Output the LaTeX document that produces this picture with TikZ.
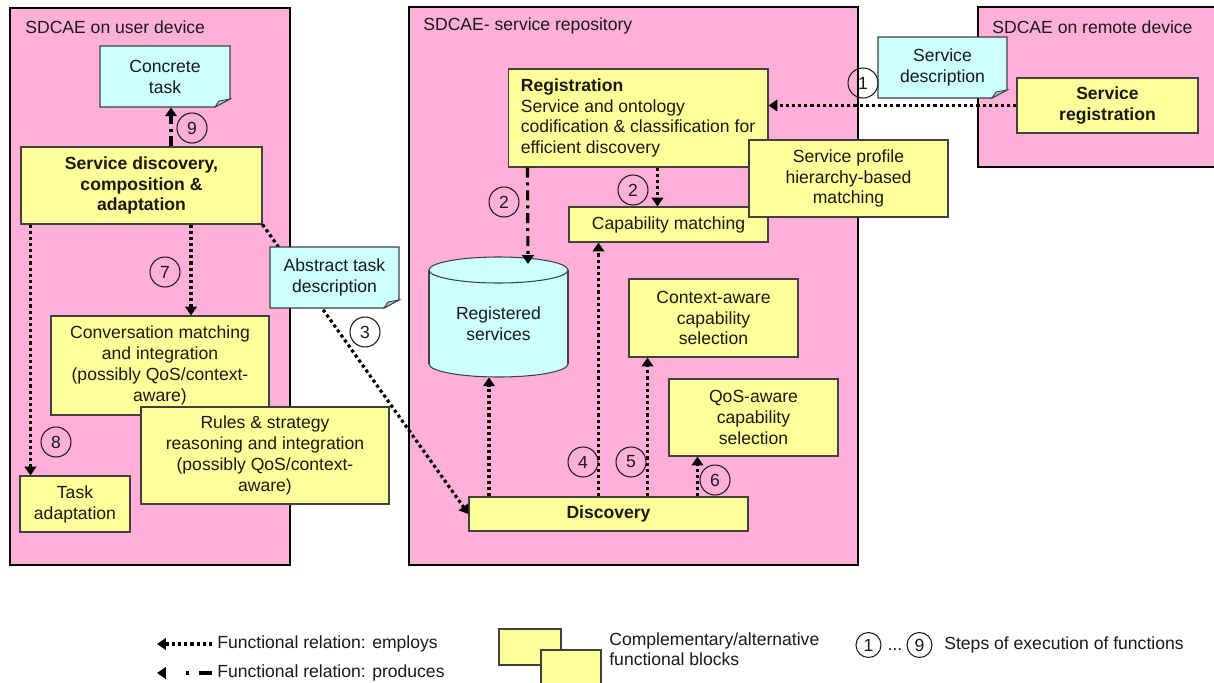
\documentclass[tikz,border=0pt]{standalone}
\usepackage{fontspec}
\setmainfont{Liberation Sans}
\usetikzlibrary{arrows.meta,calc}
\definecolor{pnk}{RGB}{255,176,216}
\definecolor{yel}{RGB}{255,255,153}
\definecolor{cya}{RGB}{204,255,255}
\definecolor{bord}{RGB}{64,64,64}
\definecolor{txt}{RGB}{25,25,25}
\newcommand\ff{\fontsize{10}{11.9}\selectfont}
\newcommand\bx[7]{\node[#6, minimum width={(#4-#2)*0.02cm}, minimum height={(#5-#3)*0.02cm}] (#1) at ({(#2+#4)/2},{(#3+#5)/2}) {#7};}
\newcommand\dc[6]{%
 \path[docshape] (#2,#3) -- (#4,#3) -- (#4,#5-8) -- (#4-15,#5) -- (#2,#5) -- cycle;
 \path[foldshape] (#4,#5-8) -- (#4-15,#5) -- (#4-11,#5-6) -- cycle;
 \node[doctext, minimum width={(#4-#2)*0.02cm}, minimum height={(#5-#3)*0.02cm}] (#1) at ({(#2+#4)/2},{(#3+#5)/2}) {#6};}
\tikzset{
 panel/.style={fill=pnk, draw=black, line width=0.6pt},
 ybox/.style={rectangle, fill=yel, draw=bord, line width=0.6pt, align=center, inner sep=0pt, text=txt, font=\ff},
 bbox/.style={ybox, font=\ff\bfseries},
 docshape/.style={fill=cya, draw=bord, line width=0.6pt},
 foldshape/.style={fill=cya!55!gray, draw=bord, line width=0.5pt},
 doctext/.style={rectangle, inner sep=0pt, align=center, text=txt, font=\ff},
 cylfill/.style={fill=cya, draw=bord, line width=0.6pt},
 employs/.style={line width=1.8pt, dash pattern=on 1.8pt off 1.7pt, -{Triangle[length=5pt,width=6.5pt]}},
 produces/.style={line width=1.8pt, dash pattern=on 5.7pt off 2.8pt on 1.7pt off 2.8pt, -{Triangle[length=5pt,width=6.5pt]}},
 lproduces/.style={line width=1.8pt, dash pattern=on 7.4pt off 5.7pt on 1.7pt off 20pt, -{Triangle[length=5pt,width=6.5pt]}},
 stepc/.style={circle, draw=txt, line width=0.6pt, minimum size=0.6cm, inner sep=0pt, text=txt, font=\ff},
 lstepc/.style={stepc, minimum size=0.5cm},
 title/.style={anchor=west, inner sep=0pt, text=txt, font=\ff},
 ltext/.style={anchor=west, inner sep=0pt, text=txt, font=\ff, align=left},
}
\begin{document}
\begin{tikzpicture}[x=0.02cm, y=-0.02cm]
\useasboundingbox (0,0) rectangle (1214,683);
\fill[white] (0,0) rectangle (1214,683);
% panels
\path[panel] (10,8) rectangle (290,565);
\path[panel] (409,7) rectangle (858,565);
\path[panel] (978,7) rectangle (1222,167);
\node[title] (t1) at (25,27) {SDCAE on user device};
\node[title] (t2) at (423,26) {SDCAE- service repository};
\node[title] (t3) at (992,27) {SDCAE on remote device};
% left panel
\bx{sd}{21}{147}{262}{224}{bbox}{Service discovery,\\composition \&\\adaptation}
\bx{disc}{469}{497}{748}{531}{bbox}{Discovery}
\draw[employs] (sd.south east) -- (disc.west);
\dc{ct}{100}{46}{230}{107}{Concrete\\task}
\dc{atd}{270}{247}{399}{308}{Abstract task\\description}
\bx{conv}{51}{316}{269}{415}{ybox}{Conversation matching\\and integration\\(possibly QoS/context-\\aware)}
\bx{rules}{141}{407}{389}{504}{ybox}{Rules \& strategy\\reasoning and integration\\(possibly QoS/context-\\aware)}
\bx{ta}{20}{476}{130}{532}{ybox}{Task\\adaptation}
\draw[produces] ([xshift=0.12cm]ct.south |- sd.north) -- ([xshift=0.12cm]ct.south);
\draw[employs] ([xshift=0.62cm]conv.north |- sd.south) -- ([xshift=0.62cm]conv.north);
\draw[employs] ([xshift=0.22cm]ta.north west |- sd.south) -- ([xshift=0.22cm]ta.north west);
% middle panel
\node[ybox, minimum width=5.2cm, minimum height=1.96cm, align=left] (reg) at (638,118) {{\bfseries Registration}\\Service and ontology\\codification \& classification for\\efficient discovery};
\bx{cap}{569}{207}{768}{242}{ybox}{Capability matching}
\bx{sp}{749}{140}{948}{217}{ybox}{Service profile\\hierarchy-based\\matching}
\path[cylfill] (498.5,364) ellipse [x radius=1.39cm, y radius=0.26cm];
\path[fill=cya] (429,270) rectangle (568,364);
\draw[bord, line width=0.6pt] (429,270) -- (429,364) (568,270) -- (568,364);
\path[cylfill] (498.5,270) ellipse [x radius=1.39cm, y radius=0.26cm];
\node[doctext, minimum width=2.78cm, minimum height=2.12cm] (rs) at (498.5,324) {Registered\\services};
\coordinate (rstop) at (528,264);
\bx{ctx}{629}{279}{798}{357}{ybox}{Context-aware\\capability\\selection}
\bx{qos}{669}{379}{838}{456}{ybox}{QoS-aware\\capability\\selection}
\draw[produces] ([xshift=0.4cm]reg.south west) -- (rstop);
\draw[employs] ([xshift=1.78cm]cap.north west |- reg.south) -- ([xshift=1.78cm]cap.north west);
\draw[employs] ([xshift=-0.19cm]rs.south |- disc.north) -- ([xshift=-0.19cm]rs.south);
\draw[employs] ([xshift=0.6cm]cap.south west |- disc.north) -- ([xshift=0.6cm]cap.south west);
\draw[employs] ([xshift=0.38cm]ctx.south west |- disc.north) -- ([xshift=0.38cm]ctx.south west);
\draw[employs] ([xshift=0.58cm]qos.south west |- disc.north) -- ([xshift=0.58cm]qos.south west);
% right panel
\dc{sdesc}{878}{37}{1007}{98}{Service\\description}
\bx{sr}{1017}{78}{1198}{133}{bbox}{Service\\registration}
\draw[employs] (sr.west) -- (sr.west -| reg.east);
% steps
\node[stepc] (c1) at (863,83) {1};
\node[stepc] (c2a) at (504,202) {2};
\node[stepc] (c2b) at (633,190) {2};
\node[stepc] (c3) at (365,332) {3};
\node[stepc] (c4) at (583,462) {4};
\node[stepc] (c5) at (631,462) {5};
\node[stepc] (c6) at (715,480) {6};
\node[stepc] (c7) at (165,272) {7};
\node[stepc] (c8) at (56,442) {8};
\node[stepc] (c9) at (192,128) {9};
% legend
\coordinate (le1a) at (212,644);
\coordinate (le1b) at (157,644);
\draw[employs] (le1a) -- (le1b);
\node[ltext] (lt1) at (217,644) {Functional relation: employs};
\coordinate (le2a) at (212,673);
\coordinate (le2b) at (157,673);
\draw[lproduces] (le2a) -- (le2b);
\node[ltext] (lt2) at (217,673) {Functional relation: produces};
\bx{lb1}{499}{629}{561}{665}{ybox}{}
\bx{lb2}{541}{650}{601}{690}{ybox}{}
\node[ltext, anchor=north west] (lt3) at (609,632) {Complementary/alternative\\functional blocks};
\node[lstepc] (lc1) at (868.5,645) {1};
\node[inner sep=0pt, font=\ff, text=txt] (ldots) at (895,650) {...};
\node[lstepc] (lc9) at (919.5,645) {9};
\node[ltext] (lt4) at (944,645) {Steps of execution of functions};
\end{tikzpicture}
\end{document}
